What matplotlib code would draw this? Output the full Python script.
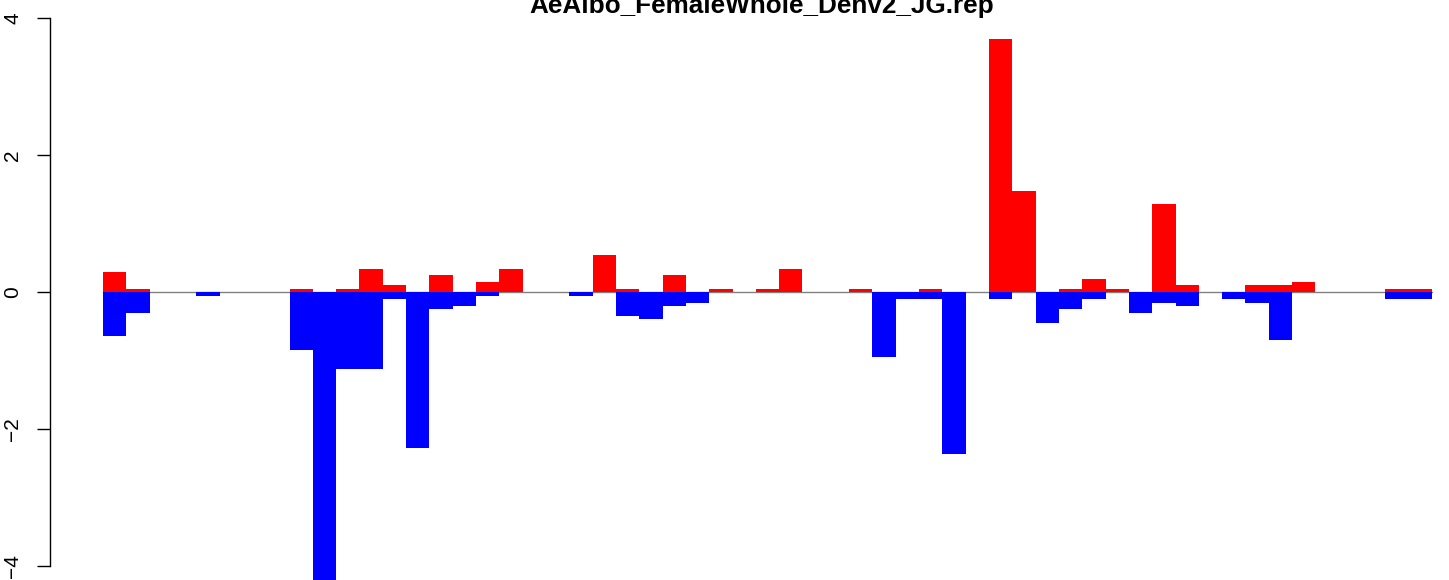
# AeAlbo_FemaleWhole_Denv2_JG.rep の上向き/下向き棒グラフ

import numpy as np
import matplotlib
matplotlib.use("Agg")
import matplotlib.pyplot as plt

# 値 (各スロットの正の値と負の値)
up_vals = [0.29, 0.05, 0, 0, 0, 0, 0, 0, 0.05, 0,
           0.05, 0.34, 0.10, 0, 0.25, 0, 0.15, 0.34, 0, 0,
           0, 0.54, 0.05, 0, 0.25, 0, 0.05, 0, 0.05, 0.34,
           0, 0, 0.05, 0, 0, 0.05, 0, 0, 3.69, 1.47,
           0, 0.05, 0.19, 0.05, 0, 1.28, 0.10, 0, 0, 0.10,
           0.10, 0.15, 0, 0, 0, 0.05, 0.05]
down_vals = [-0.64, -0.30, 0, 0, -0.06, 0, 0, 0, -0.85, -4.25,
             -1.13, -1.13, -0.10, -2.28, -0.25, -0.20, -0.06, 0, 0, 0,
             -0.06, 0, -0.35, -0.39, -0.20, -0.16, 0, 0, 0, 0,
             0, 0, 0, -0.95, -0.10, -0.10, -2.36, 0, -0.10, 0,
             -0.45, -0.25, -0.10, 0, -0.31, -0.16, -0.20, 0, -0.10, -0.16,
             -0.70, 0, 0, 0, 0, -0.10, -0.10]
title = "AeAlbo_FemaleWhole_Denv2_JG.rep"
yticks = [-4, -2, 0, 2, 4]

n = len(up_vals)
x = np.arange(n)

plt.rcParams['font.family'] = ['Liberation Sans', 'DejaVu Sans']

fig = plt.figure(figsize=(14.49, 5.80), dpi=100)
left = 50.5 / 1449
ax = fig.add_axes([left, 0, 1 - left, 1])

# 0の線
ax.plot([0, n], [0, 0], color='#808080', lw=1, zorder=1)

# 棒グラフ
ax.bar(x, up_vals, width=1, align='edge', color='red', linewidth=0, zorder=2)
ax.bar(x, down_vals, width=1, align='edge', color='blue', linewidth=0, zorder=2)

ax.set_xlim(-2.252, 57.73)
ax.set_ylim(-4.204, 4.263)

for s in ['top', 'right', 'bottom']:
    ax.spines[s].set_visible(False)
ax.spines['left'].set_bounds(-4, 4)
ax.spines['left'].set_linewidth(1)
ax.set_xticks([])
ax.set_yticks(yticks)
ax.set_yticklabels([str(v).replace('-', '\u2212') for v in yticks],
                   rotation=90, va='center', fontsize=15)
ax.tick_params(axis='y', length=9.4, width=1, pad=11)

fig.text(762 / 1449, 1 - 13 / 580, title, ha='center', va='baseline',
         fontsize=18.8, fontweight='bold')

fig.savefig("out.png", dpi=100)
